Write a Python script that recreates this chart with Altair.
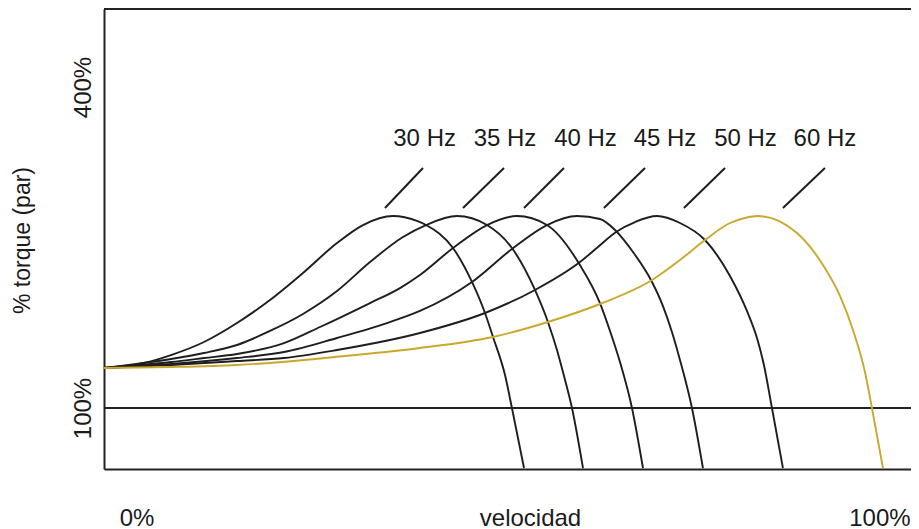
import altair as alt
import pandas as pd

# ---- data (speed in %, torque in %) ----
freqs = ["30 Hz", "35 Hz", "40 Hz", "45 Hz", "50 Hz", "60 Hz"]

speed_30 = [0, 5.13, 8.60, 12.84, 17.07, 21.31, 25.55, 29.91, 33.25, 37.10, 40.18, 41.34, 44.80, 47.24, 48.91, 49.94, 51.48, 52.37, 53.92]
torque_30 = [137.4, 142.1, 149.5, 161.7, 179.4, 200.9, 226.2, 254.2, 271.0, 279.4, 274.8, 271.0, 249.5, 217.8, 188.8, 166.4, 130.8, 100, 43.9]

speed_35 = [0, 8.60, 12.84, 17.07, 21.31, 25.55, 29.91, 34.15, 38.38, 41.34, 45.31, 49.17, 52.37, 55.33, 56.99, 58.15, 58.92, 60.08, 61.49]
torque_35 = [137.4, 145.8, 151.4, 158.9, 172.0, 187.9, 209.3, 236.4, 259.8, 271.0, 279.4, 271.0, 249.5, 210.3, 180.4, 154.2, 133.6, 100, 43.9]

speed_40 = [0, 8.60, 12.84, 17.07, 23.11, 27.73, 34.15, 38.0, 40.56, 44.80, 49.17, 53.02, 56.87, 61.10, 63.67, 64.96, 66.24, 67.78, 69.19]
torque_40 = [137.4, 143.0, 146.7, 150.5, 160.7, 175.7, 198.1, 212.1, 224.3, 249.5, 271.0, 279.4, 271.0, 233.6, 198.1, 172.0, 143.0, 100, 43.9]

speed_45 = [0, 8.60, 17.07, 23.11, 29.91, 36.33, 40.56, 47.24, 52.37, 56.87, 60.72, 63.67, 65.60, 67.91, 70.35, 71.76, 72.91, 73.94, 75.48, 76.89]
torque_45 = [137.4, 141.1, 146.7, 152.3, 165.4, 179.4, 190.7, 217.8, 248.6, 271.0, 279.4, 276.6, 266.4, 245.8, 217.8, 195.3, 171.0, 144.9, 100, 43.9]

speed_50 = [0, 8.60, 17.07, 23.11, 29.91, 40.56, 48.91, 55.33, 61.10, 63.41, 65.73, 68.17, 70.99, 73.94, 77.15, 80.36, 82.54, 83.83, 84.72, 85.75, 87.16]
torque_50 = [137.4, 140.2, 143.9, 146.7, 154.2, 170.1, 188.8, 210.3, 236.4, 250.5, 264.5, 273.8, 279.4, 272.9, 257.0, 223.4, 190.7, 165.4, 140.2, 100, 43.9]

speed_60 = [0, 8.60, 17.07, 21.31, 30.94, 40.56, 49.94, 56.99, 63.67, 70.35, 73.94, 77.15, 80.36, 82.28, 83.95, 88.96, 92.30, 94.48, 96.15, 97.69, 98.59, 100.0]
torque_60 = [137.4, 138.3, 140.2, 142.1, 148.6, 156.1, 166.4, 180.4, 197.2, 219.6, 238.3, 257.0, 272.9, 277.6, 279.4, 263.6, 233.6, 204.7, 172.9, 133.6, 100, 43.9]

# frequency labels and their leader strokes
label_x = [41.16, 51.48, 61.81, 72.02, 82.35, 92.55]
label_y = [344.9] * 6
leader_x1 = [36.07, 46.09, 53.92, 64.18, 74.45, 87.16]
leader_x2 = [40.95, 51.35, 59.05, 69.45, 79.72, 92.55]
leader_y1 = [286.9] * 6
leader_y2 = [324.3] * 6

# axis labels
y_ticks = [100, 400]
x_label_pos = [4.17, 54.69, 99.55]
h_lines = [100, 472.9]  # 100% reference line and the top frame line

X_DOMAIN = [0, 103.6]
Y_DOMAIN = [43.0, 472.9]

colors = ["#1e1e1e", "#1e1e1e", "#1e1e1e", "#1e1e1e", "#1e1e1e", "#c9a82c"]
FONT = "Liberation Sans"
TXT = "#1a1a1a"

speeds = [speed_30, speed_35, speed_40, speed_45, speed_50, speed_60]
torques = [torque_30, torque_35, torque_40, torque_45, torque_50, torque_60]
rows = []
for f, xs, ys in zip(freqs, speeds, torques):
    for i, (x, y) in enumerate(zip(xs, ys)):
        rows.append({"freq": f, "speed": x, "torque": y, "i": i})
df = pd.DataFrame(rows)

lab_df = pd.DataFrame({"freq": freqs, "speed": label_x, "torque": label_y,
                       "speed_a": leader_x1, "speed_b": leader_x2,
                       "torque_a": leader_y1, "torque_b": leader_y2})
h_df = pd.DataFrame({"torque": h_lines})

x_scale = alt.Scale(domain=X_DOMAIN, nice=False, zero=False)
y_scale = alt.Scale(domain=Y_DOMAIN, nice=False, zero=False)

label_expr = "datum.value < 20 ? '0%' : (datum.value < 80 ? 'velocidad' : '100%')"

x_axis = alt.Axis(
    values=x_label_pos, labelExpr=label_expr, ticks=False, tickSize=0, grid=False,
    domain=True, domainColor="#222222", domainWidth=2, title=None,
    labelFont=FONT, labelFontSize=24, labelColor=TXT, labelPadding=56,
    labelBaseline="alphabetic", labelAlign="center", labelFlush=False, labelOverlap=False)
y_axis = alt.Axis(
    values=y_ticks, labelExpr="datum.value + '%'", ticks=False, tickSize=0, grid=False,
    domain=True, domainColor="#222222", domainWidth=2,
    labelFont=FONT, labelFontSize=24, labelColor=TXT, labelAngle=270,
    labelAlign="center", labelBaseline="middle", labelPadding=21,
    labelFlush=False, labelOverlap=False,
    title="% torque (par)", titleFont=FONT, titleFontSize=23, titleFontWeight="normal",
    titleColor=TXT, titleAngle=270, titleX=-82, titleY=231,
    titleAlign="center", titleBaseline="middle")

X = alt.X("speed:Q", scale=x_scale, axis=x_axis)
Y = alt.Y("torque:Q", scale=y_scale, axis=y_axis)

curves = alt.Chart(df).mark_line(interpolate="monotone", strokeWidth=1.9, clip=True).encode(
    x=X, y=Y,
    color=alt.Color("freq:N", scale=alt.Scale(domain=freqs, range=colors), legend=None),
    order="i:Q",
)

hrules = alt.Chart(h_df).mark_rule(color="#222222", strokeWidth=2).encode(y=Y)

leaders = alt.Chart(lab_df).mark_rule(color="#1e1e1e", strokeWidth=2).encode(
    x=alt.X("speed_a:Q", scale=x_scale, axis=x_axis), x2="speed_b:Q",
    y=alt.Y("torque_a:Q", scale=y_scale, axis=y_axis), y2="torque_b:Q",
)

texts = alt.Chart(lab_df).mark_text(font=FONT, fontSize=24, color=TXT,
                                     align="center", baseline="alphabetic").encode(
    x=X, y=Y, text="freq:N",
)

chart = alt.layer(hrules, curves, leaders, texts).properties(
    width=807, height=460,
    autosize=alt.AutoSizeParams(type="none"),
    padding={"left": 96, "top": 1, "right": 0, "bottom": 60},
).configure_view(stroke=None)

chart.save("out.html", embed_options={"renderer": "svg", "actions": False})
